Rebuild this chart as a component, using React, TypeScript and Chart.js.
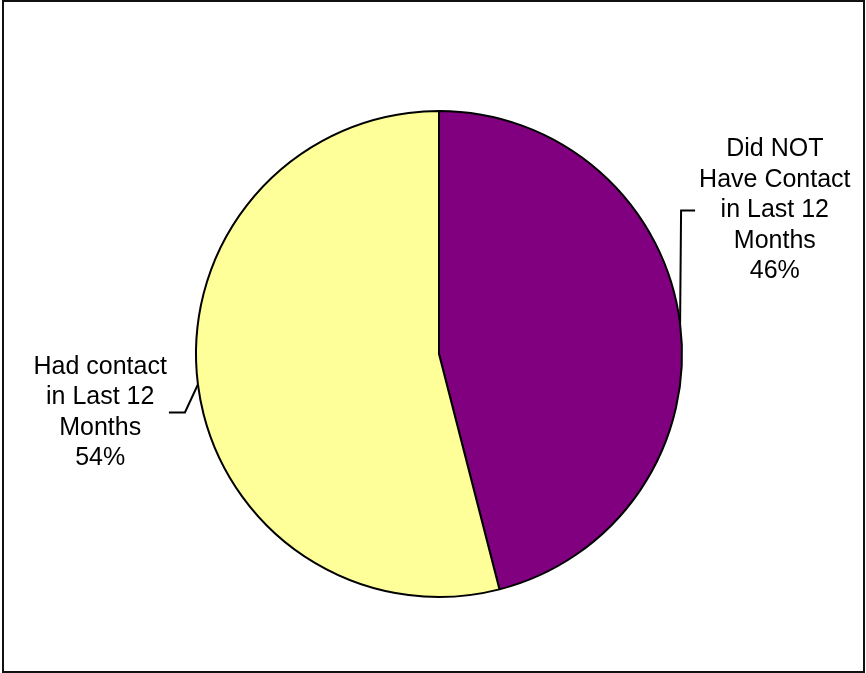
import React, { useEffect, useRef } from "react";
import { Chart, registerables } from "chart.js";

Chart.register(...registerables);

const categories = ["Did NOT Have Contact in Last 12 Months", "Had contact in Last 12 Months"];
const labelLines = [
  ["Did NOT", "Have Contact", "in Last 12", "Months"],
  ["Had contact", "in Last 12", "Months"],
];
const values = [46, 54];
const colors = ["#800080", "#FFFF99"];

const labelPlugin = {
  id: "pieLabels",
  afterDraw(chart: any) {
    const ctx = chart.ctx;
    // outer frame
    ctx.save();
    ctx.strokeStyle = "#111";
    ctx.lineWidth = 2;
    ctx.strokeRect(3, 1, 861, 671);
    ctx.restore();

    const meta = chart.getDatasetMeta(0);
    const total = values.reduce((a, b) => a + b, 0);
    ctx.save();
    ctx.font = "25px 'Liberation Sans', Arial, sans-serif";
    ctx.fillStyle = "#000";
    ctx.textAlign = "center";
    ctx.textBaseline = "middle";
    ctx.strokeStyle = "#000";
    ctx.lineWidth = 2;
    const lh = 30.5;
    meta.data.forEach((arc: any, i: number) => {
      const { x, y, startAngle, endAngle, outerRadius } = arc.getProps(
        ["x", "y", "startAngle", "endAngle", "outerRadius"],
        true
      );
      const mid = (startAngle + endAngle) / 2;
      const px = x + Math.cos(mid) * outerRadius;
      const py = y + Math.sin(mid) * outerRadius;
      const right = Math.cos(mid) > 0;
      let ex: number, ey: number, hx: number;
      if (right) {
        ex = px + 1;
        ey = py - 113;
        hx = ex + 14;
      } else {
        ex = px - 13;
        ey = py + 28;
        hx = ex - 16;
      }
      ctx.beginPath();
      ctx.moveTo(px, py);
      ctx.lineTo(ex, ey);
      ctx.lineTo(hx, ey);
      ctx.stroke();

      const pct = Math.round((values[i] / total) * 100) + "%";
      const lines = [...labelLines[i], pct];
      const maxW = Math.max(...lines.map((l) => ctx.measureText(l).width));
      const cx = right ? hx + maxW / 2 + 4 : hx - maxW / 2 - 2;
      const top = ey - ((lines.length - 1) * lh) / 2;
      lines.forEach((l, k) => ctx.fillText(l, cx, top + k * lh));
    });
    ctx.restore();
  },
};

export default function App() {
  const ref = useRef<HTMLCanvasElement>(null);
  useEffect(() => {
    const chart = new Chart(ref.current as HTMLCanvasElement, {
      type: "pie",
      data: {
        labels: categories,
        datasets: [
          {
            data: values,
            backgroundColor: colors,
            borderColor: "#000",
            borderWidth: 2,
          },
        ],
      },
      options: {
        animation: false,
        responsive: false,
        layout: { padding: { left: 195, right: 183, top: 110, bottom: 75 } },
        plugins: {
          legend: { display: false },
          tooltip: { enabled: false },
        },
      },
      plugins: [labelPlugin],
    });
    return () => chart.destroy();
  }, []);
  return (
    <div style={{ position: "fixed", left: 0, top: 0, width: 866, height: 673, background: "#fff" }}>
      <canvas ref={ref} width={866} height={673} style={{ width: 866, height: 673, display: "block" }} />
    </div>
  );
}
